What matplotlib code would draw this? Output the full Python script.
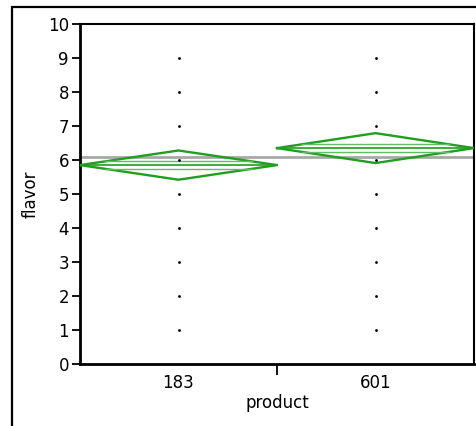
import matplotlib
matplotlib.use("Agg")
import matplotlib.pyplot as plt
from matplotlib.patches import Rectangle
import numpy as np

products = ["183", "601"]
flavor_levels = [1, 2, 3, 4, 5, 6, 7, 8, 9]
group_means = [5.85, 6.35]
ci_half = [0.43, 0.44]
overlap_offset = [0.11, 0.11]
grand_mean = 6.10
y_ticks = [0, 1, 2, 3, 4, 5, 6, 7, 8, 9, 10]

W, H = 476, 426
fig = plt.figure(figsize=(W / 100, H / 100), dpi=100)
fig.patch.set_facecolor("white")

# outer frame
fig.patches.append(Rectangle((12 / W, -0.1), 1.2, (1 - 7 / H) + 0.1,
                             transform=fig.transFigure, fill=False,
                             edgecolor="black", linewidth=1.6))

ax = fig.add_axes([80 / W, 1 - 364 / H, (474 - 80) / W, (364 - 24) / H])
ax.set_xlim(-0.5, 1.5)
ax.set_ylim(0, 10)

green = "#1f9e1f"

# grand mean
ax.axhline(grand_mean, color="#a8a8a8", lw=2, zorder=1)

for i, (m, c, d) in enumerate(zip(group_means, ci_half, overlap_offset)):
    xs = [i - 0.5, i, i + 0.5, i, i - 0.5]
    ys = [m, m + c, m, m - c, m]
    ax.plot(xs, ys, color=green, lw=1.7, zorder=3)
    ax.plot([i - 0.5, i + 0.5], [m, m], color=green, lw=1.2, zorder=3)
    hw = 0.5 * (1 - d / c)
    for s in (1, -1):
        ax.plot([i - hw, i + hw], [m + s * d, m + s * d], color="#5fbf5f", lw=1.0, zorder=3)
    ax.scatter([i] * len(flavor_levels), flavor_levels, s=4, color="black", zorder=4, marker="o", linewidths=0)

ax.set_yticks(y_ticks)
ax.set_xticks([0, 1])
ax.set_xticklabels(products)
ax.set_xticks([0.5], minor=True)
ax.tick_params(axis="x", which="major", length=0, pad=7, labelsize=12)
ax.tick_params(axis="x", which="minor", length=8, width=1.3, direction="out")
ax.tick_params(axis="y", length=6, width=1.3, direction="out", labelsize=12, pad=2)
for sp in ax.spines.values():
    sp.set_linewidth(1.5)
ax.spines["left"].set_linewidth(2)
ax.spines["bottom"].set_linewidth(2)
ax.set_xlabel("product", fontsize=12, labelpad=2)
ax.set_ylabel("flavor", fontsize=12, labelpad=6)

fig.savefig("out.png", dpi=100)
